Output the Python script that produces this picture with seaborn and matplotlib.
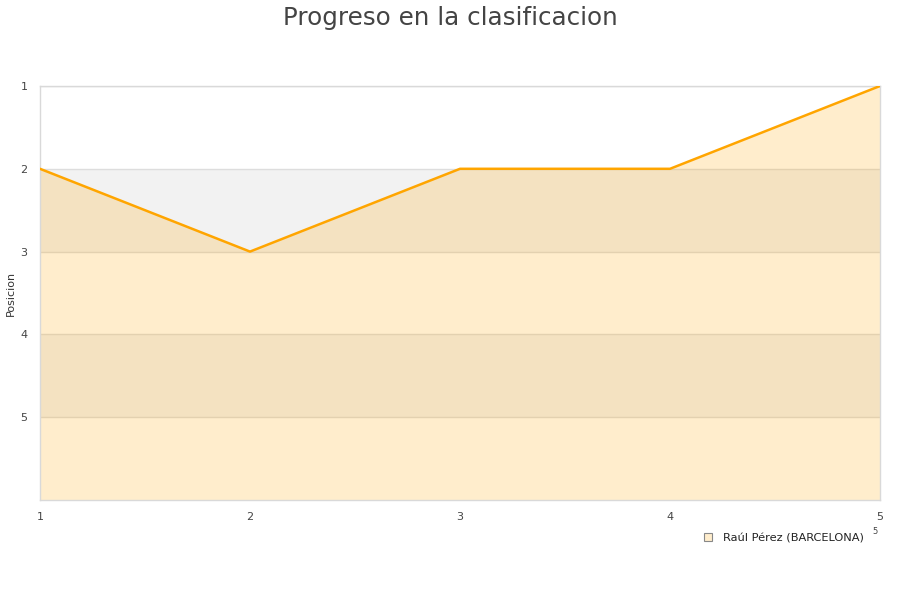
import matplotlib
matplotlib.use('Agg')
import matplotlib.pyplot as plt
import seaborn as sns
import pandas as pd

# Data
jornadas = [1, 2, 3, 4, 5]
posiciones = [2, 3, 2, 2, 1]
jugador = 'Raúl Pérez (BARCELONA)'
y_ticks = [1, 2, 3, 4, 5]

df = pd.DataFrame({'Jornada': jornadas, 'Posicion': posiciones})

sns.set_style('white')
plt.rcParams['font.family'] = ['DejaVu Sans']

fig = plt.figure(figsize=(9, 6), dpi=100)
ax = fig.add_axes([40 / 900, 100 / 600, 840 / 900, 414 / 600])

# alternating bands
for lo in [2, 4]:
    ax.axhspan(lo, lo + 1, color='#f2f2f2', zorder=0, lw=0)

ax.fill_between(df['Jornada'], df['Posicion'], 6, color='#ffa500', alpha=0.2,
                lw=0, zorder=1)
sns.lineplot(data=df, x='Jornada', y='Posicion', ax=ax, color='#ffa500',
             linewidth=1.8, zorder=3, legend=False)

ax.set_xlim(1, 5)
ax.set_ylim(6, 1)
ax.set_xticks(jornadas)
ax.set_yticks(y_ticks)
ax.tick_params(axis='both', length=0, labelsize=8, colors='#444444')
ax.tick_params(axis='x', pad=9)
ax.tick_params(axis='y', pad=9)
ax.grid(axis='y', color='#dddddd', linewidth=1, zorder=0.5)
ax.set_axisbelow(True)
for s in ax.spines.values():
    s.set_color('#d9d9d9')
    s.set_linewidth(1)
ax.set_xlabel('')
ax.set_ylabel('Posicion', fontsize=8, color='#333333')
ax.yaxis.set_label_coords(-24 / 840, 0.5)

fig.text(0.5, 0.99, 'Progreso en la clasificacion', ha='center', va='top',
         fontsize=17.7, color='#444444')

# legend
ax.plot([], [], 's', markersize=6, markerfacecolor='#ffedcc',
        markeredgecolor='#888888', markeredgewidth=0.8, label=jugador)
leg = ax.legend(loc='upper right', bbox_to_anchor=(0.993, -0.055), frameon=False,
                fontsize=8.2, handlelength=0.8, handletextpad=0.9)
for t in leg.get_texts():
    t.set_color('#222222')

fig.text(875 / 900, 1 - 532 / 600, '5', fontsize=6, color='#444444',
         ha='center', va='center')

plt.savefig('out.png', dpi=100)
